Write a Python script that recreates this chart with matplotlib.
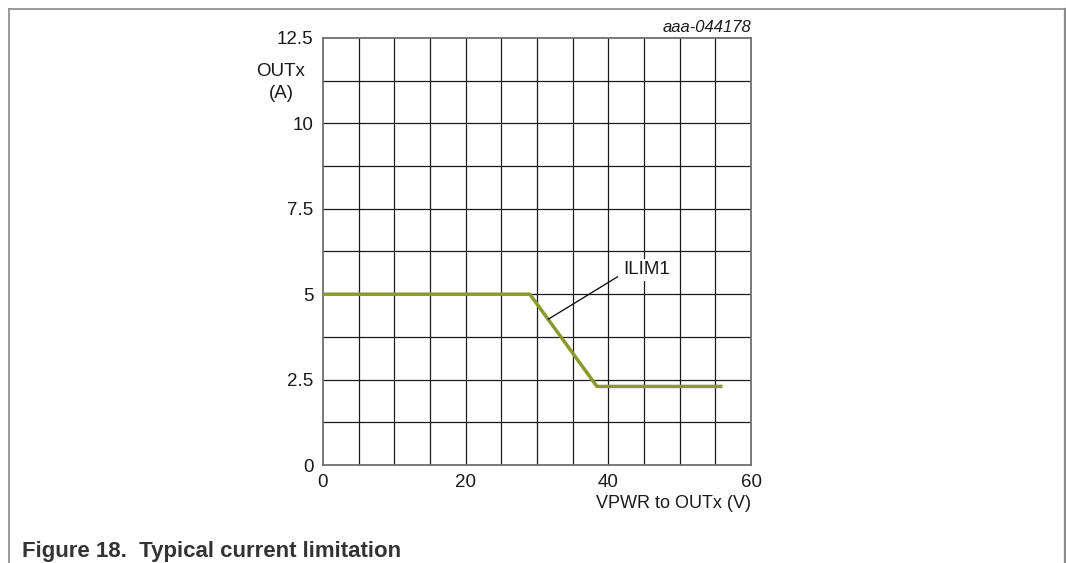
import matplotlib
matplotlib.use("Agg")
import matplotlib.pyplot as plt

plt.rcParams['font.family'] = ['Liberation Sans', 'DejaVu Sans']

# Current limit curve ILIM1: OUTx current vs VPWR-to-OUTx voltage
vpwr_v = [0, 29, 38.4, 56]
outx_a = [5, 5, 2.3, 2.3]

x_ticks = [0, 20, 40, 60]
y_ticks = [0, 2.5, 5, 7.5, 10, 12.5]
y_tick_labels = ["0", "2.5", "5", "7.5", "10", "12.5"]

W, H = 1066, 563
fig = plt.figure(figsize=(W / 100, H / 100), dpi=100)

# outer frame (open at the bottom)
frame_color = "#8a8a8a"
fig.add_artist(plt.Line2D([9 / W, 9 / W], [0, 1 - 9 / H], transform=fig.transFigure,
                          color=frame_color, lw=1.2))
fig.add_artist(plt.Line2D([1064.5 / W, 1064.5 / W], [0, 1 - 9 / H], transform=fig.transFigure,
                          color=frame_color, lw=1.6))
fig.add_artist(plt.Line2D([9 / W, 1064.5 / W], [1 - 9 / H, 1 - 9 / H], transform=fig.transFigure,
                          color=frame_color, lw=1.2))

left, right, top, bottom = 323, 751, 38, 465
ax = fig.add_axes([left / W, 1 - bottom / H, (right - left) / W, (bottom - top) / H])
ax.set_xlim(0, 60)
ax.set_ylim(0, 12.5)

# grid every 5 V and 1.25 A
for xv in range(5, 60, 5):
    ax.axvline(xv, color="#1a1a1a", lw=0.9, zorder=1)
for k in range(1, 10):
    ax.axhline(k * 1.25, color="#1a1a1a", lw=0.9, zorder=1)

for s in ax.spines.values():
    s.set_color("#6e6e6e")
    s.set_linewidth(1.3)

fs = 13.5
ax.set_xticks(x_ticks)
ax.set_yticks(y_ticks)
ax.set_yticklabels(y_tick_labels)
ax.tick_params(length=0, labelsize=fs, pad=7, colors="#1a1a1a")
ax.tick_params(axis='x', pad=6.5)

ax.plot(vpwr_v, outx_a, color="#8C9A2B", lw=2.5, solid_capstyle='butt', zorder=3)

# leader line and label
ax.annotate("", xy=(31.6, 4.27), xytext=(41.3, 5.51),
            arrowprops=dict(arrowstyle='-', color='black', lw=0.9,
                            shrinkA=0, shrinkB=0), zorder=4)
ax.text(45.4, 5.71, "ILIM1", fontsize=fs, ha='center', va='center', color="#1a1a1a",
        bbox=dict(boxstyle='square,pad=0.12', fc='white', ec='none'), zorder=4)

fig.text(281 / W, 1 - 71 / H, "OUTx", fontsize=fs, ha='center', va='center', color="#1a1a1a")
fig.text(281 / W, 1 - 94 / H, "(A)", fontsize=fs, ha='center', va='center', color="#1a1a1a")
fig.text(751 / W, 1 - 508 / H, "VPWR to OUTx (V)", fontsize=13, ha='right', va='baseline',
         color="#1a1a1a")
fig.text(751 / W, 1 - 27 / H, "aaa-044178", fontsize=12, ha='right', va='center',
         style='italic', color="#1a1a1a")
fig.text(22 / W, 1 - 557 / H, "Figure 18.  Typical current limitation", fontsize=16,
         ha='left', va='baseline', fontweight='bold', color="#333333")

fig.savefig("out.png", dpi=100)
